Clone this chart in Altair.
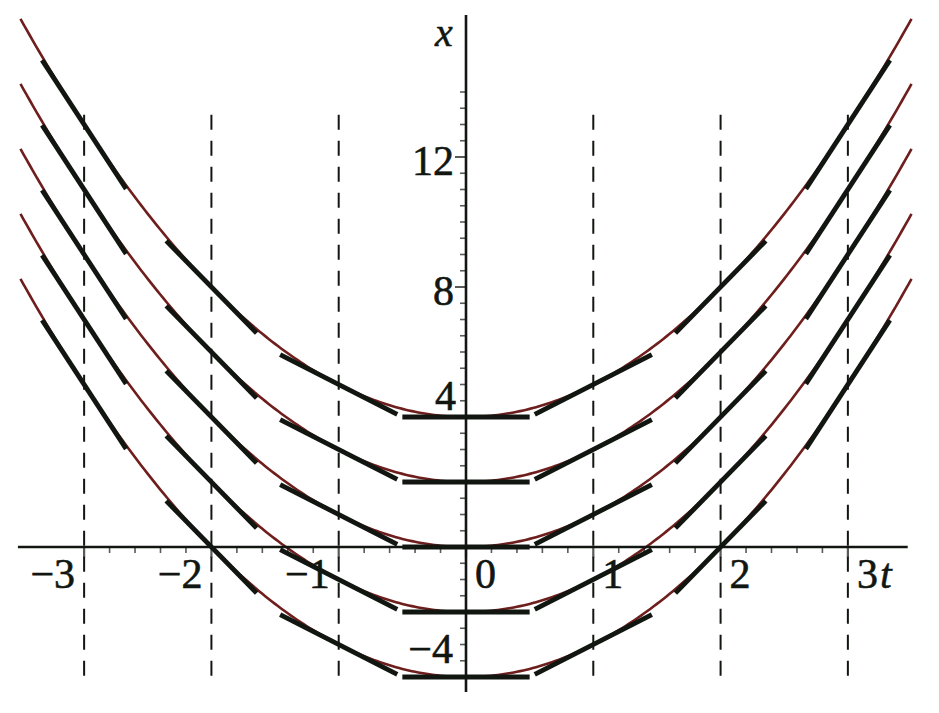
import numpy as np
import pandas as pd
import altair as alt

# ---- values ----
C_values = [4, 2, 0, -2, -4]                 # x = t^2 + C  (integral curves)
t_range = [-3.5, 3.5]                        # extent of the curves
isocline_t = [-3, -2, -1, 0, 1, 2, 3]        # where the line elements are drawn
half_span = {0: 0.5, 1: 0.46, 2: 0.355, 3: 0.33}   # half width (in t) of each line element
dashed_t = [-3, -2, -1, 1, 2, 3]
dashed_top, dashed_bottom = 13.3, -4.1
t_axis_ext = [-3.52, 3.47]
x_axis_ext = [-4.46, 16.37]
t_tick_labels = [-3, -2, -1, 0, 1, 2, 3]
t_minor = [round(v, 1) for v in np.arange(-3.0, 3.01, 0.2) if abs(v - round(v)) > 1e-6]
x_minor = [v for v in np.arange(-4.0, 14.01, 0.5) if v % 4 != 0]
x_major = [-4, 4, 8, 12]

TOP_PAD = 12
T_DOM = [-3.598, 3.653]
X_DOM = [-4.861, 16.215]
W, H = 923, 685

# ---- tables built from them ----
ts = np.linspace(t_range[0], t_range[1], 281)
curves = pd.DataFrame([{"t": t, "x": t * t + c, "C": c} for c in C_values for t in ts])

segs = []
for c in C_values:
    for tk in isocline_t:
        h = half_span[abs(tk)]
        slope = 2 * tk
        x0 = tk * tk + c
        segs.append({"t1": tk - h, "t2": tk + h, "x1": x0 - slope * h, "x2": x0 + slope * h})
segs = pd.DataFrame(segs)

dashed = pd.DataFrame({"t": dashed_t, "y1": dashed_top, "y2": dashed_bottom})

xs = alt.Scale(domain=T_DOM, nice=False, zero=False)
ys = alt.Scale(domain=X_DOM, nice=False, zero=False)

INK = "#111611"
BROWN = "#6e1e1c"
FONT = "Liberation Serif"
FS = 42


def X(f):
    return alt.X(f, scale=xs, axis=None)


def Y(f):
    return alt.Y(f, scale=ys, axis=None)


dash_layer = alt.Chart(dashed).mark_rule(
    color=INK, strokeWidth=2, strokeDash=[15, 11]
).encode(x=X("t:Q"), y=Y("y1:Q"), y2="y2:Q")

curve_layer = alt.Chart(curves).mark_line(
    color=BROWN, strokeWidth=2.6, clip=False
).encode(x=X("t:Q"), y=Y("x:Q"), detail="C:N", order="t:Q")

seg_layer = alt.Chart(segs).mark_rule(
    color=INK, strokeWidth=4.8, strokeCap="butt"
).encode(x=X("t1:Q"), x2="t2:Q", y=Y("x1:Q"), y2="x2:Q")

t_axis = alt.Chart(pd.DataFrame({"a": [t_axis_ext[0]], "b": [t_axis_ext[1]], "y": [0]})).mark_rule(
    color=INK, strokeWidth=2.6
).encode(x=X("a:Q"), x2="b:Q", y=Y("y:Q"))

x_axis = alt.Chart(pd.DataFrame({"a": [x_axis_ext[0]], "b": [x_axis_ext[1]], "t": [0]})).mark_rule(
    color=INK, strokeWidth=2.6
).encode(x=X("t:Q"), y=Y("a:Q"), y2="b:Q")

t_minor_ticks = alt.Chart(pd.DataFrame({"t": t_minor, "y": 0})).mark_tick(
    color=INK, orient="vertical", size=6, thickness=1.6, yOffset=3
).encode(x=X("t:Q"), y=Y("y:Q"))

t_major_ticks = alt.Chart(pd.DataFrame({"t": t_tick_labels, "y": 0})).mark_tick(
    color=INK, orient="vertical", size=11, thickness=2.2, yOffset=5
).encode(x=X("t:Q"), y=Y("y:Q"))

x_minor_ticks = alt.Chart(pd.DataFrame({"x": x_minor, "t": 0})).mark_tick(
    color=INK, orient="horizontal", size=6, thickness=1.6, xOffset=-3
).encode(x=X("t:Q"), y=Y("x:Q"))

x_major_ticks = alt.Chart(pd.DataFrame({"x": x_major, "t": 0})).mark_tick(
    color=INK, orient="horizontal", size=12, thickness=2, xOffset=-5
).encode(x=X("t:Q"), y=Y("x:Q"))


def lab(v):
    return ("\u2212" + str(abs(v))) if v < 0 else str(v)


neg_t = pd.DataFrame({"t": [v for v in t_tick_labels if v < 0], "y": 0})
neg_t["lab"] = neg_t["t"].map(lab)
pos_t = pd.DataFrame({"t": [v for v in t_tick_labels if v >= 0], "y": 0})
pos_t["lab"] = pos_t["t"].map(lab)

txt = dict(font=FONT, fontSize=FS, color=INK, baseline="alphabetic", stroke=INK, strokeWidth=0.6)

neg_t_lab = alt.Chart(neg_t).mark_text(align="right", dx=-9, dy=41, **txt).encode(
    x=X("t:Q"), y=Y("y:Q"), text="lab:N")
pos_t_lab = alt.Chart(pos_t).mark_text(align="left", dx=9, dy=41, **txt).encode(
    x=X("t:Q"), y=Y("y:Q"), text="lab:N")

x_lab_mid = pd.DataFrame({"x": [8, 12], "t": 0})
x_lab_mid["lab"] = x_lab_mid["x"].map(lab)
x_lab_4 = pd.DataFrame({"x": [4], "t": 0, "lab": ["4"]})
x_lab_m4 = pd.DataFrame({"x": [-4], "t": 0, "lab": [lab(-4)]})

xl1 = alt.Chart(x_lab_mid).mark_text(align="right", dx=-12, dy=18, **txt).encode(
    x=X("t:Q"), y=Y("x:Q"), text="lab:N")
xl2 = alt.Chart(x_lab_4).mark_text(align="right", dx=-10, dy=-7, **txt).encode(
    x=X("t:Q"), y=Y("x:Q"), text="lab:N")
xl3 = alt.Chart(x_lab_m4).mark_text(align="right", dx=-13, dy=-14, **txt).encode(
    x=X("t:Q"), y=Y("x:Q"), text="lab:N")

it = dict(font=FONT, color=INK, baseline="alphabetic", fontStyle="italic", align="left",
          stroke=INK, strokeWidth=0.5)
t_title = alt.Chart(pd.DataFrame({"t": [3], "y": [0], "lab": ["t"]})).mark_text(
    dx=32, dy=41, fontSize=FS, **it).encode(x=X("t:Q"), y=Y("y:Q"), text="lab:N")
x_title = alt.Chart(pd.DataFrame({"t": [0], "y": [x_axis_ext[1]], "lab": ["x"]})).mark_text(
    dx=-31, dy=31, fontSize=40, **it).encode(x=X("t:Q"), y=Y("y:Q"), text="lab:N")

chart = alt.layer(
    dash_layer, curve_layer, seg_layer, t_axis, x_axis,
    t_minor_ticks, t_major_ticks, x_minor_ticks, x_major_ticks,
    neg_t_lab, pos_t_lab, xl1, xl2, xl3, t_title, x_title
).properties(
    width=W, height=H,
    padding={"left": 0, "top": TOP_PAD, "right": 0, "bottom": 0},
    autosize=alt.AutoSizeParams(type="none"),
    background="white"
).configure_view(stroke=None)

chart.save("out.html", embed_options={"renderer": "svg", "actions": False})
